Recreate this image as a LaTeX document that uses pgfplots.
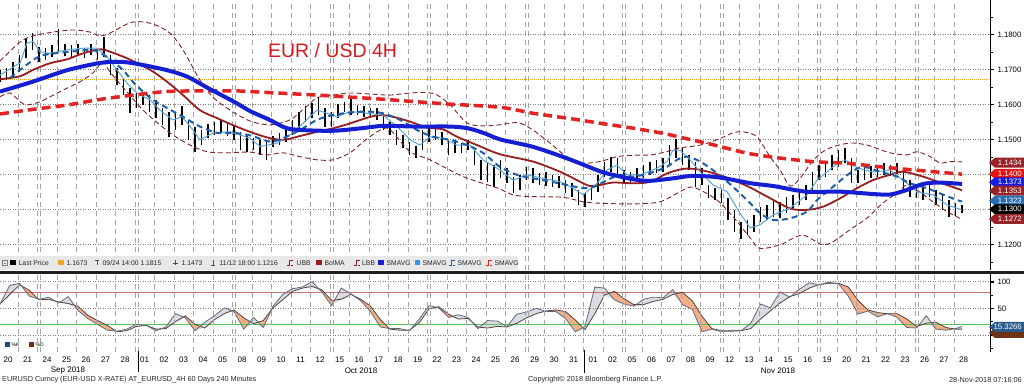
\documentclass[border=0pt]{standalone}
\usepackage{pgfplots}
\pgfplotsset{compat=1.18}
\usepackage{pgfplotstable}
\usepackage{fontspec}
\setmainfont{Liberation Sans}

\definecolor{smablue}{RGB}{20,30,210}
\definecolor{smared}{RGB}{225,35,35}
\definecolor{bollred}{RGB}{150,30,30}
\definecolor{bandred}{RGB}{125,35,35}
\definecolor{ltblue}{RGB}{90,165,220}
\definecolor{stblue}{RGB}{30,95,165}
\definecolor{gridgray}{RGB}{165,165,165}
\definecolor{lvorange}{RGB}{235,165,40}
\definecolor{titlered}{RGB}{215,25,30}
\definecolor{stochK}{RGB}{95,105,125}
\definecolor{stochD}{RGB}{80,65,60}
\definecolor{fillorange}{RGB}{245,175,135}
\definecolor{fillgray}{RGB}{218,220,225}
\definecolor{kred}{RGB}{200,115,115}
\definecolor{kgreen}{RGB}{80,200,80}
\definecolor{tagdark}{RGB}{150,35,40}
\definecolor{tagred}{RGB}{230,20,20}
\definecolor{tagblue}{RGB}{20,30,220}
\definecolor{tagsteel}{RGB}{40,110,180}
\definecolor{tagstoch}{RGB}{40,90,140}
\definecolor{tagbrown}{RGB}{110,50,20}
\definecolor{legendgray}{RGB}{232,232,232}
\definecolor{ltsq}{RGB}{50,150,240}
\definecolor{kleg}{RGB}{40,70,110}

\newcommand{\tickfont}{\fontsize{7.8}{9}\selectfont}
\newcommand{\lgfont}{\fontsize{6.8}{8}\selectfont}
\newcommand{\pricetag}[3]{%
  \fill[#2] (989,{385-#1}) -- (995,{385-#1+5}) -- (1024,{385-#1+5}) -- (1024,{385-#1-5}) -- (995,{385-#1-5}) -- cycle;
  \node[white, font=\tickfont, anchor=east, inner sep=0] at (1022,{385-#1}) {#3};}

\pgfplotstableread{
b lo hi
0 1.1664 1.1699
2 1.1670 1.1704
4 1.1676 1.1722
6 1.1693 1.1741
8 1.1733 1.1790
10 1.1756 1.1804
12 1.1722 1.1764
14 1.1727 1.1761
16 1.1736 1.1770
18 1.1750 1.1816
20 1.1739 1.1773
22 1.1733 1.1770
24 1.1741 1.1773
26 1.1733 1.1761
28 1.1741 1.1773
30 1.1727 1.1756
32 1.1736 1.1793
34 1.1684 1.1741
36 1.1656 1.1704
38 1.1627 1.1676
40 1.1576 1.1647
42 1.1590 1.1633
44 1.1599 1.1636
46 1.1579 1.1627
48 1.1562 1.1613
50 1.1542 1.1590
52 1.1507 1.1579
54 1.1527 1.1579
56 1.1542 1.1596
58 1.1499 1.1556
60 1.1464 1.1536
62 1.1484 1.1527
64 1.1504 1.1544
66 1.1513 1.1550
68 1.1519 1.1556
70 1.1510 1.1550
72 1.1499 1.1539
74 1.1470 1.1522
76 1.1464 1.1513
78 1.1470 1.1504
80 1.1456 1.1499
82 1.1442 1.1493
84 1.1479 1.1510
86 1.1484 1.1519
88 1.1493 1.1533
90 1.1513 1.1556
92 1.1527 1.1579
94 1.1550 1.1596
96 1.1562 1.1604
98 1.1570 1.1619
100 1.1536 1.1590
102 1.1536 1.1579
104 1.1562 1.1602
106 1.1579 1.1607
108 1.1570 1.1619
110 1.1570 1.1599
112 1.1564 1.1596
114 1.1564 1.1590
116 1.1556 1.1590
118 1.1527 1.1576
120 1.1513 1.1550
122 1.1484 1.1527
124 1.1476 1.1513
126 1.1456 1.1493
128 1.1447 1.1481
130 1.1470 1.1527
132 1.1493 1.1536
134 1.1499 1.1533
136 1.1484 1.1522
138 1.1456 1.1499
140 1.1462 1.1499
142 1.1462 1.1490
144 1.1470 1.1499
146 1.1427 1.1470
148 1.1384 1.1442
150 1.1379 1.1433
152 1.1364 1.1427
154 1.1390 1.1442
156 1.1376 1.1419
158 1.1347 1.1393
160 1.1356 1.1399
162 1.1384 1.1422
164 1.1376 1.1419
166 1.1370 1.1404
168 1.1367 1.1407
170 1.1364 1.1399
172 1.1362 1.1396
174 1.1347 1.1384
176 1.1336 1.1376
178 1.1313 1.1356
180 1.1307 1.1347
182 1.1327 1.1370
184 1.1350 1.1399
186 1.1393 1.1436
188 1.1407 1.1450
190 1.1399 1.1447
192 1.1376 1.1413
194 1.1373 1.1407
196 1.1379 1.1419
198 1.1390 1.1427
200 1.1399 1.1436
202 1.1404 1.1442
204 1.1407 1.1447
206 1.1427 1.1484
208 1.1447 1.1502
210 1.1427 1.1476
212 1.1413 1.1456
214 1.1364 1.1436
216 1.1370 1.1419
218 1.1333 1.1370
220 1.1327 1.1362
222 1.1319 1.1356
224 1.1270 1.1333
226 1.1236 1.1299
228 1.1216 1.1264
230 1.1227 1.1270
232 1.1236 1.1284
234 1.1264 1.1307
236 1.1270 1.1313
238 1.1279 1.1327
240 1.1276 1.1322
242 1.1290 1.1336
244 1.1304 1.1342
246 1.1313 1.1356
248 1.1327 1.1370
250 1.1356 1.1407
252 1.1384 1.1427
254 1.1393 1.1433
256 1.1413 1.1456
258 1.1422 1.1470
260 1.1433 1.1476
262 1.1376 1.1447
264 1.1376 1.1413
266 1.1384 1.1419
268 1.1390 1.1424
270 1.1393 1.1427
272 1.1399 1.1433
274 1.1396 1.1427
276 1.1402 1.1433
278 1.1356 1.1419
280 1.1336 1.1384
282 1.1333 1.1370
284 1.1327 1.1367
286 1.1336 1.1376
288 1.1313 1.1356
290 1.1299 1.1342
292 1.1279 1.1327
294 1.1282 1.1319
296 1.1290 1.1313
}\bars

\pgfplotstableread{
b K D
0 58 58
3 93 76
6 97 94
9 73 84
12 67 66
15 71 67
18 60 62
21 72 59
24 46 54
27 31 37
30 20 27
33 9 18
36 7 6
39 11 8
42 20 16
45 18 18
48 8 11
51 15 12
54 40 25
57 32 36
60 8 20
63 24 13
66 36 29
69 51 40
72 44 47
75 11 32
78 33 21
81 14 27
84 54 51
87 76 66
90 87 82
93 90 88
96 100 91
99 81 85
102 55 65
105 88 67
108 77 76
111 64 67
114 44 54
117 15 29
120 12 11
123 12 9
126 8 9
129 30 23
132 55 49
135 51 53
138 33 39
141 38 30
144 33 31
147 12 15
150 27 13
153 26 16
156 16 15
159 39 22
162 43 32
165 50 40
168 44 45
171 44 47
174 31 44
177 6 28
180 16 10
183 90 40
186 88 75
189 66 82
192 58 68
195 54 57
198 67 57
201 71 63
204 70 67
207 85 76
210 57 80
213 48 64
216 6 35
219 11 12
222 6 8
225 9 7
228 8 8
231 22 12
234 58 30
237 51 45
240 81 60
243 71 72
246 86 78
249 98 88
252 94 95
255 99 97
258 96 97
261 73 90
264 39 65
267 45 47
270 34 42
273 40 40
276 33 40
279 14 30
282 13 16
285 36 22
288 11 24
291 9 14
294 12 11
296 16 11
}\stoch

\pgfplotsset{
  bbgrid/.style={
    scale only axis, width=990pt,
    xmin=0, xmax=304.6,
    axis line style={draw=none},
    xtick pos=bottom, ytick pos=right, yticklabel pos=right,
    xtick={5.5,11.5,...,293.5}, minor xtick={12.5,42.5,...,282.5},
    xticklabels={},
    xmajorgrids, xminorgrids,
    major x tick style={draw=none}, minor x tick style={draw=none},
    major x grid style={gridgray, line width=0.6pt, dash pattern=on 5pt off 4pt},
    minor x grid style={gridgray, line width=0.6pt, dash pattern=on 5pt off 4pt},
    ymajorgrids,
    major y grid style={gray, line width=0.5pt, dash pattern=on 1pt off 1.5pt},
    tick align=outside,
    major tick length=4pt, minor tick length=2.5pt,
    major y tick style={line width=1.6pt, black},
    minor y tick style={line width=0.6pt, black},
  }
}

\begin{document}
\begin{tikzpicture}[x=1pt,y=1pt]
\useasboundingbox (0,0) rectangle (1024,385);

% ---------------- main price panel ----------------
\begin{axis}[bbgrid,
  at={(0pt,115pt)}, anchor=south west,
  height=270pt,
  ymin=1.11272, ymax=1.18986,
  ytick={1.12,1.13,1.14,1.15,1.16,1.17,1.18},
  minor ytick={1.115,1.125,1.135,1.145,1.155,1.165,1.175,1.185},
  scaled y ticks=false,
  yticklabel style={/pgf/number format/fixed, /pgf/number format/fixed zerofill,
     /pgf/number format/precision=4, /pgf/number format/assume math mode=true,
     font=\tickfont, text=black},
]
\addplot[lvorange, line width=0.8pt, dash pattern=on 1pt off 1pt] coordinates {(0,1.1673) (304.6,1.1673)};

\addplot[draw=none, mark=none, error bars/.cd, y dir=plus, y explicit, error mark=none,
   error bar style={draw=black, line width=1.4pt}]
   table[x=b, y=lo, y error plus expr=\thisrow{hi}-\thisrow{lo}] {\bars};

% Bollinger upper band
\addplot[bandred, line width=0.9pt, dash pattern=on 5pt off 3pt, smooth] coordinates {
(0,1.1724)(6.2,1.1779)(10.2,1.1796)(16.3,1.1807)(22.5,1.1813)(27.7,1.1807)(30.8,1.1796)(33.8,1.1804)(39.1,1.1830)(42.2,1.1837)(47.1,1.1830)(52.3,1.1804)(56.3,1.1756)(61.5,1.1670)(65.5,1.1621)(69.8,1.1590)(73.8,1.1567)(77.8,1.1550)(83.1,1.1542)(89.2,1.1556)(93.8,1.1590)(97.5,1.1619)(102.5,1.1627)(107.7,1.1633)(113.8,1.1630)(120,1.1627)(126.2,1.1633)(131.4,1.1634)(134.5,1.1627)(138.5,1.1599)(143.7,1.1547)(148.6,1.1539)(153.8,1.1542)(156.9,1.1547)(160,1.1547)(164,1.1527)(169.2,1.1490)(174.5,1.1450)(179.4,1.1433)(184.6,1.1437)(189.8,1.1451)(194.8,1.1455)(200,1.1456)(204.6,1.1464)(209.2,1.1476)(215.4,1.1484)(220.6,1.1499)(225.5,1.1519)(228.6,1.1522)(232.9,1.1508)(236.9,1.1451)(240,1.1413)(243.1,1.1367)(246.2,1.1390)(249.8,1.1436)(253,1.1464)(256.3,1.1479)(261.5,1.1490)(266.8,1.1484)(273.8,1.1462)(279,1.1456)(282.2,1.1465)(286.2,1.1451)(289.2,1.1433)(292.3,1.1437)(296,1.1436)};
% Bollinger lower band
\addplot[bandred, line width=0.9pt, dash pattern=on 5pt off 3pt, smooth] coordinates {
(0,1.1622)(3.1,1.1633)(6.2,1.1608)(8.3,1.1599)(12.3,1.1608)(18.5,1.1637)(24.6,1.1665)(28.6,1.1690)(31.7,1.1722)(33.8,1.1693)(39.1,1.1636)(44,1.1584)(49.2,1.1542)(53.2,1.1513)(58.5,1.1484)(63.7,1.1465)(69.8,1.1462)(76.9,1.1464)(82.2,1.1456)(87.1,1.1462)(92.3,1.1451)(97.5,1.1442)(102.5,1.1442)(107.7,1.1462)(111.7,1.1493)(116,1.1522)(119.1,1.1533)(121,1.1519)(126.2,1.1465)(132.3,1.1442)(142.5,1.1394)(152.9,1.1362)(157.8,1.1342)(163.1,1.1337)(173.2,1.1335)(179.4,1.1322)(184.6,1.1318)(194.8,1.1316)(203,1.1322)(209.2,1.1351)(212.3,1.1364)(215.4,1.1356)(220.6,1.1327)(225.5,1.1280)(230.8,1.1219)(233.8,1.1189)(240,1.1199)(244,1.1218)(247.1,1.1227)(250.2,1.1213)(253.2,1.1199)(256.3,1.1208)(261.5,1.1242)(266.8,1.1276)(271.7,1.1319)(276,1.1347)(279,1.1370)(283,1.1350)(287,1.1322)(291.4,1.1294)(296,1.1272)};
% Bollinger middle
\addplot[bollred, line width=1.8pt, smooth] coordinates {
(0,1.1672)(6.2,1.1681)(10.2,1.1699)(15.4,1.1718)(20.6,1.1729)(25.5,1.1746)(30.8,1.1758)(33.8,1.1751)(39.1,1.1732)(46.2,1.1699)(51.4,1.1665)(56.3,1.1627)(61.5,1.1584)(66.8,1.1561)(71.7,1.1541)(76.9,1.1522)(82.2,1.1506)(87.1,1.1499)(92.3,1.1510)(97.5,1.1522)(102.5,1.1532)(107.7,1.1546)(112.9,1.1562)(116.9,1.1570)(120.9,1.1565)(126.2,1.1551)(131.4,1.1534)(136.3,1.1529)(140.6,1.1508)(146.8,1.1484)(153.8,1.1458)(164,1.1437)(172.3,1.1408)(177.5,1.1384)(181.5,1.1367)(184.6,1.1370)(188.6,1.1377)(194.8,1.1375)(200,1.1379)(205.2,1.1403)(210.2,1.1416)(214.5,1.1415)(220.6,1.1401)(225.6,1.1384)(230.8,1.1363)(236,1.1337)(243.1,1.1303)(248.3,1.1299)(253.2,1.1308)(258.5,1.1332)(263.7,1.1361)(268.6,1.1384)(273.8,1.1399)(277.8,1.1408)(284,1.1394)(289.2,1.1377)(296,1.1355)};
% short SMA (light blue)
\addplot[ltblue, line width=1pt] coordinates {
(0,1.1684)(6.2,1.1719)(8.3,1.1776)(10.2,1.1780)(12.3,1.1751)(15.4,1.1746)(20.6,1.1756)(25.5,1.1761)(29.8,1.1761)(32.9,1.1737)(36,1.1699)(39.1,1.1661)(42.2,1.1632)(46.2,1.1613)(49.2,1.1584)(53.2,1.1556)(56,1.1565)(59.4,1.1527)(61.5,1.1499)(65.5,1.1518)(70.8,1.1522)(73.8,1.1513)(76.9,1.1504)(80,1.1480)(85.2,1.1489)(89.2,1.1513)(93.2,1.1546)(97.5,1.1584)(100.6,1.1575)(103.7,1.1565)(107.7,1.1580)(112.9,1.1575)(117.8,1.1570)(122.2,1.1537)(126.2,1.1499)(129.2,1.1484)(132.3,1.1508)(136.3,1.1504)(140.6,1.1484)(144.6,1.1484)(148.6,1.1442)(153.8,1.1413)(157.8,1.1384)(162.2,1.1399)(167.1,1.1389)(172.3,1.1380)(176.3,1.1361)(179.4,1.1342)(183.7,1.1375)(186.8,1.1413)(189.8,1.1427)(192.9,1.1399)(196.9,1.1399)(202.2,1.1418)(205.2,1.1437)(207.1,1.1470)(209.2,1.1470)(212.3,1.1442)(215.4,1.1408)(219.4,1.1370)(223.7,1.1351)(227.7,1.1289)(230.8,1.1247)(233.8,1.1256)(237.8,1.1284)(243.1,1.1304)(248.3,1.1342)(251.4,1.1384)(256.3,1.1422)(260,1.1442)(263.7,1.1419)(268.6,1.1407)(273.8,1.1413)(277.8,1.1384)(282.2,1.1350)(287.1,1.1342)(291.4,1.1313)(296,1.1299)};
% medium SMA (steel blue dashed)
\addplot[stblue, line width=2pt, dash pattern=on 6pt off 4pt, smooth] coordinates {
(3.1,1.1676)(6.2,1.1699)(10.2,1.1727)(13.2,1.1741)(20.6,1.1750)(27.7,1.1756)(30.8,1.1748)(34.8,1.1722)(37.8,1.1699)(40.9,1.1665)(44,1.1637)(47.1,1.1613)(51.4,1.1590)(56.3,1.1565)(61.5,1.1537)(66.8,1.1519)(71.7,1.1519)(76.9,1.1512)(83.1,1.1494)(87.1,1.1504)(92.3,1.1527)(97.5,1.1556)(102.5,1.1570)(107.7,1.1577)(112.9,1.1580)(117.8,1.1575)(123.1,1.1556)(128.3,1.1527)(133.2,1.1508)(138.5,1.1499)(143.7,1.1484)(148.6,1.1462)(153.8,1.1422)(159.1,1.1399)(164,1.1389)(169.2,1.1380)(174.5,1.1370)(179.4,1.1361)(182.5,1.1364)(186.8,1.1384)(190.8,1.1399)(194.8,1.1394)(200,1.1404)(205.2,1.1422)(208.3,1.1442)(211.4,1.1451)(215.4,1.1437)(220.6,1.1404)(225.5,1.1365)(230.8,1.1318)(233.8,1.1290)(237.8,1.1270)(243.1,1.1275)(248.3,1.1294)(251.4,1.1327)(256.3,1.1365)(261.5,1.1404)(265.5,1.1422)(270.8,1.1408)(276,1.1394)(280,1.1375)(285.2,1.1361)(289.2,1.1346)(294.5,1.1327)(296,1.1323)};
% long SMA (red dashed)
\addplot[smared, line width=3.5pt, dash pattern=on 9pt off 5pt, smooth] coordinates {
(0,1.1573)(10,1.1586)(21,1.1599)(31,1.1615)(41,1.1627)(51,1.1637)(61.5,1.1639)(72,1.1639)(77,1.1637)(87,1.1632)(97.5,1.1627)(108,1.1621)(118,1.1615)(128,1.1608)(138.5,1.1601)(154,1.1592)(164,1.1575)(174.5,1.1561)(185,1.1546)(195,1.1532)(205,1.1516)(209,1.1507)(219.4,1.1485)(229.8,1.1461)(240,1.1447)(250,1.1437)(260.6,1.1432)(270.8,1.1422)(281,1.1413)(296,1.1401)};
% SMA 100 (thick blue)
\addplot[smablue, line width=4pt, smooth] coordinates {
(0,1.1637)(10,1.1665)(21,1.1699)(31,1.1719)(36,1.1722)(41,1.1718)(51,1.1699)(57.5,1.1680)(64,1.1647)(72,1.1608)(77,1.1581)(83,1.1556)(88,1.1533)(93,1.1527)(102.5,1.1525)(111,1.1532)(118,1.1539)(128,1.1537)(138.5,1.1537)(144,1.1532)(149,1.1518)(154,1.1500)(164,1.1479)(174.5,1.1446)(185,1.1408)(190,1.1396)(195,1.1386)(200,1.1382)(207,1.1389)(213,1.1396)(221,1.1392)(231,1.1375)(238,1.1367)(248,1.1351)(258.5,1.1351)(269,1.1344)(274,1.1343)(279,1.1356)(284,1.1373)(289,1.1377)(296,1.1373)};
\end{axis}

% ---------------- stochastic panel ----------------
\begin{axis}[bbgrid,
  at={(0pt,33pt)}, anchor=south west,
  height=78pt,
  ymin=-32, ymax=114.5,
  axis on top,
  extra x ticks={2.5,8.5,...,296.5},
  extra x tick labels={20,21,24,25,26,27,28,01,02,03,04,05,08,09,10,11,12,15,16,17,18,19,22,23,24,25,26,29,30,31,01,02,05,06,07,08,09,12,13,14,15,16,19,20,21,22,23,26,27,28},
  extra x tick style={grid=none},
  xticklabel style={font=\fontsize{8}{9}\selectfont, text=black, yshift=3pt},
  ytick={0,50,100}, minor ytick={-25,25,75},
  yticklabel style={/pgf/number format/assume math mode=true, font=\tickfont, text=black},
]
\addplot[fill=fillorange, draw=none] table[x=b, y=D] {\stoch} \closedcycle;
\addplot[fill=fillgray, draw=none] table[x=b, y=K] {\stoch} \closedcycle;
\addplot[fill=white, draw=none] table[x=b, y expr={min(\thisrow{K},\thisrow{D})}] {\stoch} \closedcycle;
\addplot[kred, line width=0.9pt] coordinates {(0,80) (304.6,80)};
\addplot[kgreen, line width=0.9pt] coordinates {(0,20) (304.6,20)};
\addplot[stochD, line width=0.8pt] table[x=b, y=D] {\stoch};
\addplot[stochK, line width=0.8pt] table[x=b, y=K] {\stoch};
\end{axis}

% right axis lines
\draw[black, line width=0.8pt] (990,115) -- (990,385);
\draw[black, line width=0.8pt] (990,33) -- (990,111);

% title
\node[text=titlered, font=\fontsize{19.5}{21}\selectfont] at (332.5,334.7) {EUR / USD 4H};

% legend strip
\fill[legendgray] (0,115) rectangle (518,129);
\begin{scope}[every node/.style={anchor=west, inner sep=0, font=\lgfont, text=black!85}]
\draw[gray, line width=0.4pt] (2.5,119.5) rectangle (7,124.5); \draw[gray, line width=0.4pt] (3.5,122) -- (6,122);
\fill[black] (10,119.5) rectangle (15.5,125);
\node at (18.5,122) {Last Price};
\fill[lvorange] (58,119.5) rectangle (63.5,125);
\node at (66.5,122) {1.1673};
\draw[black!70, line width=0.5pt] (94.5,125) -- (99,125); \draw[black!70, line width=0.5pt] (96.75,125) -- (96.75,119.5);
\node at (102.5,122) {09/24 14:00 1.1815};
\draw[black!70, line width=0.5pt] (172.5,122) -- (177.5,122); \draw[black!70, line width=0.5pt] (175,119.5) -- (175,124.5);
\node at (181.5,122) {1.1473};
\draw[black!70, line width=0.5pt] (210.75,119.5) -- (215.25,119.5); \draw[black!70, line width=0.5pt] (213,119.5) -- (213,125);
\node at (219.5,122) {11/12 18:00 1.1216};
\draw[bandred, line width=0.6pt] (287,119.5) -- (289,119.5) -- (289,124.5) -- (293,124.5) (291,119.5) -- (293,119.5);
\node at (296.5,122) {UBB};
\fill[bollred] (316,119.5) rectangle (321.5,125);
\node at (324.5,122) {BolMA};
\draw[bandred, line width=0.6pt] (354,119.5) -- (356,119.5) -- (356,124.5) -- (359.5,124.5) (358,119.5) -- (359.5,119.5);
\node at (362,122) {LBB};
\fill[smablue] (378,119.5) rectangle (383.5,125);
\node at (386.5,122) {SMAVG};
\fill[ltsq] (414.5,119.5) rectangle (420,125);
\node at (422.5,122) {SMAVG};
\draw[stblue, line width=0.6pt] (449,119.5) -- (451,119.5) -- (451,124.5) -- (455,124.5) (453,119.5) -- (455,119.5);
\node at (457.5,122) {SMAVG};
\draw[smared, line width=0.6pt] (486,119.5) -- (488,119.5) -- (488,124.5) -- (492,124.5) (490,119.5) -- (492,119.5);
\node at (494.5,122) {SMAVG};
\end{scope}

% separator between panels
\draw[line width=2.8pt, black!88] (0,112.3) -- (1024,112.3);

% stochastic legend
\fill[kleg] (5,38) rectangle (10,43);
\fill[tagbrown] (29,38) rectangle (34,43);
\node[anchor=west, inner sep=0, font=\fontsize{5}{6}\selectfont] at (11.5,40.5) {\%K};
\node[anchor=west, inner sep=0, font=\fontsize{5}{6}\selectfont] at (35.5,40.5) {\%D};

% price tags
\pricetag{162.7}{tagdark}{1.1434}
\pricetag{174}{tagred}{1.1400}
\pricetag{182.3}{tagblue}{1.1373}
\pricetag{190.7}{tagdark}{1.1353}
\pricetag{200.7}{tagsteel}{1.1323}
\pricetag{209.3}{black}{1.1300}
\pricetag{219}{tagdark}{1.1272}
\pricetag{333}{tagbrown}{}
\pricetag{327}{tagstoch}{15.3266}

% month separators and labels
\draw[black, line width=0.8pt] (138,34) -- (138,13);
\draw[black, line width=0.8pt] (584,35) -- (584,12);
\begin{scope}[every node/.style={inner sep=0, font=\fontsize{8}{9}\selectfont, text=black}]
\node at (68,14.5) {Sep 2018};
\node at (361,14.5) {Oct 2018};
\node at (778,14.5) {Nov 2018};
\end{scope}

% footer
\begin{scope}[every node/.style={inner sep=0, font=\fontsize{7.3}{8}\selectfont, text=black!85}]
\node[anchor=west] at (2,5) {EURUSD Curncy (EUR-USD X-RATE) AT\_EURUSD\_4H 60 Days 240 Minutes};
\node[anchor=west] at (528,5) {Copyright© 2018 Bloomberg Finance L.P.};
\node[anchor=east] at (1022,5) {28-Nov-2018 07:16:06};
\end{scope}
\end{tikzpicture}
\end{document}
